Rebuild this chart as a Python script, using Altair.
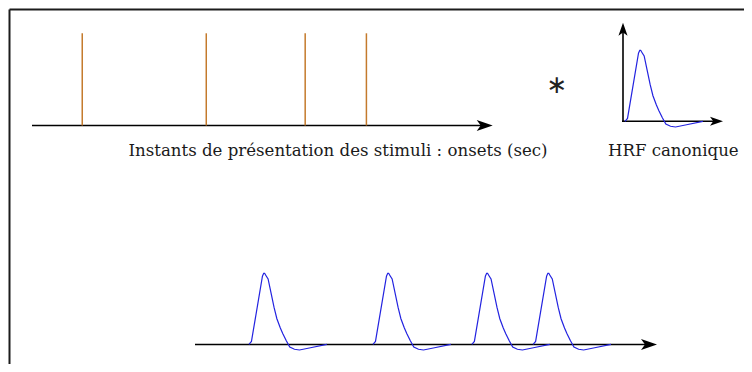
import altair as alt
import pandas as pd

# ---------------- data ----------------
onsets_sec = [16.0, 55.5, 87.0, 106.5]            # stimulus onsets (s)
hrf_t = [0, 0.8, 4.3, 4.7, 5.0, 5.4, 6.1, 7.1, 8.0, 8.9, 10.0, 10.8,
         11.9, 13.0, 14.5, 16.1, 20.0, 24.8]        # HRF time samples (s)
hrf_y = [0, 0.04, 0.96, 1.0, 1.0, 0.97, 0.92, 0.71, 0.52, 0.36, 0.23, 0.15,
         0.05, -0.04, -0.07, -0.08, -0.045, 0]      # normalised HRF amplitude
label_onsets = "Instants de présentation des stimuli : onsets (sec)"
label_hrf = "HRF canonique"
label_conv = "∗"

# ---------------- layout (diagram units = page pixels) ----------------
W, H = 736, 356
PX_PER_SEC = 3.14
AMP_PX = 71.0
TOP_X0, TOP_TIP, TOP_Y = 32.0, 492.7, 125.5
STICK_TOP = 33.3
INS_OX, INS_OY = 625.0, 121.3
INS_AX_X, INS_TIP_Y, INS_TIP_X = 623.0, 22.7, 723.0
BOT_X0, BOT_TIP, BOT_Y = 195.0, 657.0, 344.5
BOT_OX = TOP_X0 + 166.7

xs = alt.Scale(domain=[8, 8 + W], nice=False, zero=False)
ys = alt.Scale(domain=[8, 8 + H], reverse=True, nice=False, zero=False)


def X(f):
    return alt.X(f, type="quantitative", scale=xs, axis=None)


def Y(f):
    return alt.Y(f, type="quantitative", scale=ys, axis=None)


# frame
frame = pd.DataFrame([
    dict(x=9.5, x2=8 + W, y=9.6, y2=9.6),
    dict(x=9.5, x2=9.5, y=9.6, y2=8 + H),
])
# axes lines
axes = pd.DataFrame([
    dict(x=TOP_X0, x2=TOP_TIP - 10, y=TOP_Y, y2=TOP_Y),
    dict(x=BOT_X0, x2=BOT_TIP - 10, y=BOT_Y, y2=BOT_Y),
    dict(x=INS_AX_X - 1, x2=INS_TIP_X - 8, y=INS_OY, y2=INS_OY),
    dict(x=INS_AX_X, x2=INS_AX_X, y=INS_OY + 0.7, y2=INS_TIP_Y + 8),
])
# arrow heads
heads = pd.DataFrame([
    dict(x=TOP_TIP - 8, y=TOP_Y, a=0, s=256),
    dict(x=BOT_TIP - 8, y=BOT_Y, a=0, s=256),
    dict(x=INS_TIP_X - 6.5, y=INS_OY, a=0, s=169),
    dict(x=INS_AX_X, y=INS_TIP_Y + 6.5, a=270, s=169),
])
# onset sticks
sticks = pd.DataFrame([
    dict(x=TOP_X0 + t * PX_PER_SEC, y=STICK_TOP, y2=TOP_Y) for t in onsets_sec
])
# HRF curves
rows = []
curves = [(INS_OX, INS_OY, "hrf")] + [
    (BOT_OX + t * PX_PER_SEC, BOT_Y - 0.2, f"c{i}") for i, t in enumerate(onsets_sec)
]
for ox, oy, cid in curves:
    for k, (t, a) in enumerate(zip(hrf_t, hrf_y)):
        rows.append(dict(x=ox + t * PX_PER_SEC, y=oy - a * AMP_PX, c=cid, o=k))
hrf_df = pd.DataFrame(rows)

labels = pd.DataFrame([
    dict(x=338.0, y=155.5, t=label_onsets),
    dict(x=673.3, y=155.5, t=label_hrf),
])
star = pd.DataFrame([dict(x=557.0, y=85.0, t=label_conv)])

arrow_shape = "M1,0 L-1,-0.7 L-0.5,0 L-1,0.7 Z"

l_frame = alt.Chart(frame).mark_rule(color="#1c1c1c", strokeWidth=2).encode(
    x=X("x"), x2="x2", y=Y("y"), y2="y2")
l_axes = alt.Chart(axes).mark_rule(color="#000000", strokeWidth=1.6).encode(
    x=X("x"), x2="x2", y=Y("y"), y2="y2")
l_heads = alt.Chart(heads).mark_point(
    shape=arrow_shape, filled=True, color="#000000", opacity=1, strokeWidth=0
).encode(x=X("x"), y=Y("y"),
         angle=alt.Angle("a:Q", scale=None),
         size=alt.Size("s:Q", scale=None))
l_sticks = alt.Chart(sticks).mark_rule(color="#c47a2c", strokeWidth=1.5).encode(
    x=X("x"), y=Y("y"), y2="y2")
l_hrf = alt.Chart(hrf_df).mark_line(color="#2323e0", strokeWidth=1.2).encode(
    x=X("x"), y=Y("y"), detail="c:N", order="o:Q")
l_labels = alt.Chart(labels).mark_text(
    font="DejaVu Serif", fontSize=16.6, align="center", baseline="alphabetic",
    color="#1a1a1a"
).encode(x=X("x"), y=Y("y"), text="t:N")
l_star = alt.Chart(star).mark_text(
    font="DejaVu Sans", fontSize=25, align="center", baseline="middle",
    color="#222222"
).encode(x=X("x"), y=Y("y"), text="t:N")

chart = alt.layer(l_frame, l_axes, l_sticks, l_hrf, l_heads, l_labels, l_star).properties(
    width=W, height=H, padding=0,
    autosize=alt.AutoSizeParams(type="none"),
).configure_view(strokeWidth=0)

chart.save("out.html", embed_options={"renderer": "svg", "actions": False})
